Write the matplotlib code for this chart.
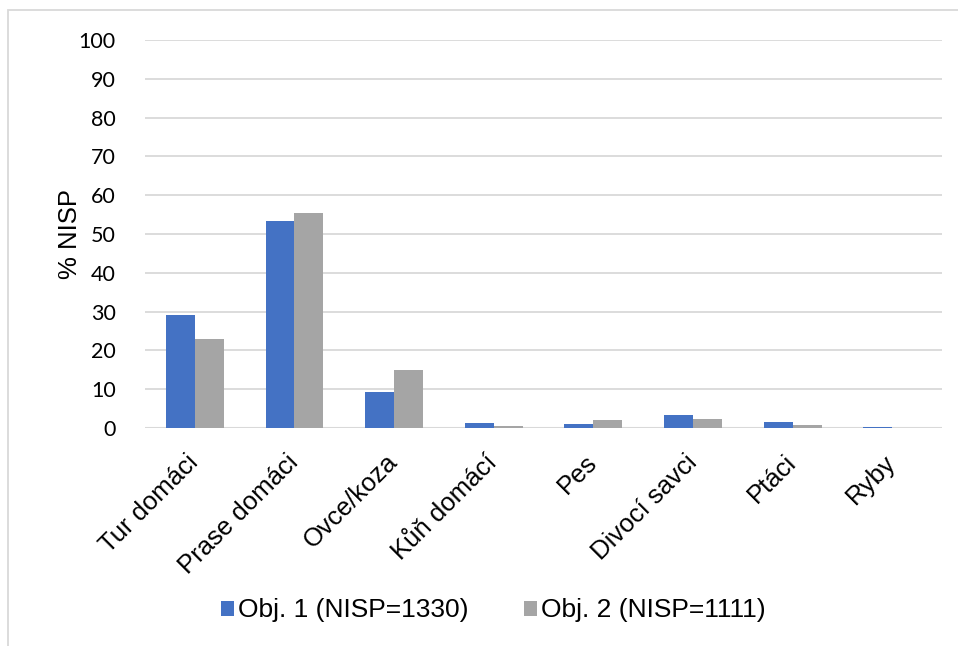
import numpy as np
import matplotlib.pyplot as plt
from matplotlib.patches import Rectangle

# % NISP per taxon for the two features
categories = ["Tur domáci", "Prase domáci", "Ovce/koza", "Kůň domácí", "Pes",
              "Divocí savci", "Ptáci", "Ryby"]
obj1 = [29.0, 53.4, 9.3, 1.3, 1.1, 3.3, 1.6, 0.3]
obj2 = [22.9, 55.4, 15.0, 0.4, 2.1, 2.4, 0.8, 0.0]
labels = ["Obj. 1 (NISP=1330)", "Obj. 2 (NISP=1111)"]
yticks = list(range(0, 101, 10))

blue = "#4472C4"
gray = "#A5A5A5"
grid = "#D9D9D9"

fig = plt.figure(figsize=(9.58, 6.46), dpi=100)
ax = fig.add_axes([0.1514, 0.3375, 0.832, 0.6005])

x = np.arange(len(categories))
w = 0.29
ax.bar(x - w / 2, obj1, w, color=blue, label=labels[0], zorder=3)
ax.bar(x + w / 2, obj2, w, color=gray, label=labels[1], zorder=3)

ax.set_xlim(-0.5, len(categories) - 0.5)
ax.set_ylim(0, 100)
ax.set_yticks(yticks)
ax.set_yticklabels([str(t) for t in yticks], family="Lato", fontsize=15.5)
ax.yaxis.grid(True, color=grid, linewidth=1.3, zorder=0)
ax.axhline(0, color=grid, linewidth=1.5, zorder=2)
for s in ax.spines.values():
    s.set_visible(False)
ax.tick_params(axis="both", length=0)
ax.tick_params(axis="y", pad=21)

ax.set_xticks(x)
ax.set_xticklabels(categories, rotation=45, ha="right", va="center",
                   rotation_mode="anchor", family="Liberation Sans", fontsize=18.5)
ax.tick_params(axis="x", pad=22)

ax.set_ylabel("% NISP", family="Liberation Sans", fontsize=18.5, labelpad=-2)

fig.legend(loc="center", bbox_to_anchor=(0.515, 0.055), ncol=2, frameon=False,
           prop={"family": "Liberation Sans", "size": 19},
           handlelength=0.5, handleheight=0.5, handletextpad=0.15,
           columnspacing=2.1)

# chart frame
fig.patches.append(Rectangle((8 / 958, -0.1), 1.1, 1 - 10 / 646 + 0.1,
                             transform=fig.transFigure, fill=False,
                             edgecolor=grid, linewidth=1.3))

fig.savefig("out.png", dpi=100)
